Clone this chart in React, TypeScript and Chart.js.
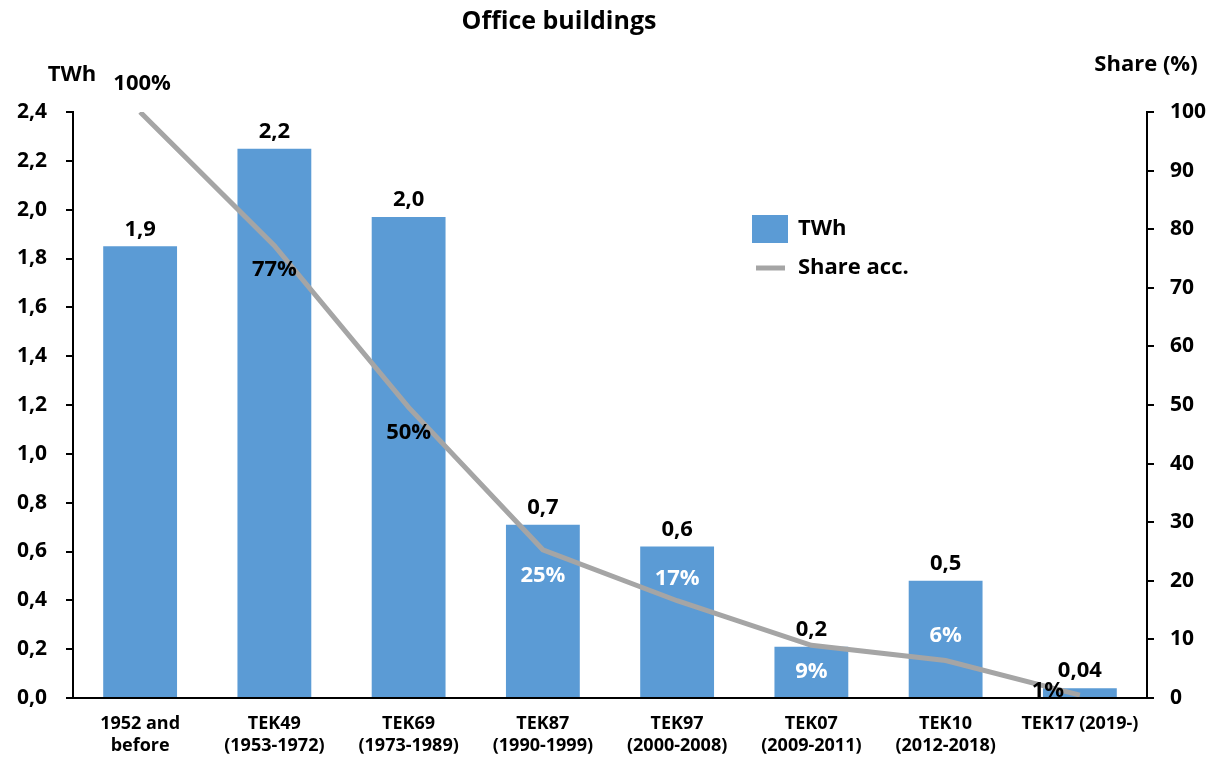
import React, { useEffect, useRef } from "react";
import { Chart, registerables } from "chart.js";

Chart.register(...registerables);

const categories: (string | string[])[] = [
  ["1952 and", "before"],
  ["TEK49", "(1953-1972)"],
  ["TEK69", "(1973-1989)"],
  ["TEK87", "(1990-1999)"],
  ["TEK97", "(2000-2008)"],
  ["TEK07", "(2009-2011)"],
  ["TEK10", "(2012-2018)"],
  "TEK17 (2019-)",
];
const twhValues = [1.85, 2.25, 1.97, 0.71, 0.62, 0.21, 0.48, 0.04];
const twhLabels = ["1,9", "2,2", "2,0", "0,7", "0,6", "0,2", "0,5", "0,04"];
const shareValues = [100, 77.2, 49.6, 25.3, 16.6, 9.0, 6.4, 0.5];
const shareLabels = ["100%", "77%", "50%", "25%", "17%", "9%", "6%", "1%"];

// label placement (dx, dy, colour) for share labels
const shareLabelPlacement = [
  { dx: 2, dy: -28, color: "#000" },
  { dx: 0, dy: 24, color: "#000" },
  { dx: 0, dy: 25, color: "#000" },
  { dx: 0, dy: 26, color: "#fff" },
  { dx: 0, dy: -22, color: "#fff" },
  { dx: 0, dy: 26, color: "#fff" },
  { dx: 0, dy: -25, color: "#fff" },
  { dx: -32, dy: -4, color: "#000" },
];

const FONT = "'Open Sans', 'DejaVu Sans', sans-serif";
const BAR_COLOR = "#5B9BD5";
const LINE_COLOR = "#A5A5A5";

export default function App() {
  const ref = useRef<HTMLCanvasElement | null>(null);

  useEffect(() => {
    document.body.style.margin = "0";
    const canvas = ref.current!;
    const overlay = {
      id: "overlay",
      afterDatasetsDraw(chart: any) {
        const ctx = chart.ctx;
        ctx.save();
        // bar labels
        const barMeta = chart.getDatasetMeta(0);
        ctx.font = `bold 22px ${FONT}`;
        ctx.fillStyle = "#000";
        ctx.textAlign = "center";
        ctx.textBaseline = "middle";
        barMeta.data.forEach((el: any, i: number) => {
          ctx.fillText(twhLabels[i], el.x, el.y - 17);
        });
        // share labels
        const lineMeta = chart.getDatasetMeta(1);
        lineMeta.data.forEach((el: any, i: number) => {
          const p = shareLabelPlacement[i];
          ctx.fillStyle = p.color;
          ctx.fillText(shareLabels[i], el.x + p.dx, el.y + p.dy);
        });
        ctx.restore();
      },
      afterDraw(chart: any) {
        const ctx = chart.ctx;
        const ca = chart.chartArea;
        ctx.save();
        // extend x axis line to the left (tick length)
        ctx.strokeStyle = "#000";
        ctx.lineWidth = 2;
        ctx.beginPath();
        ctx.moveTo(ca.left - 7, ca.bottom);
        ctx.lineTo(ca.right, ca.bottom);
        ctx.stroke();
        ctx.fillStyle = "#000";
        ctx.textBaseline = "middle";
        // title
        ctx.font = `bold 25px ${FONT}`;
        ctx.textAlign = "center";
        ctx.fillText("Office buildings", 559, 22);
        // axis titles
        ctx.font = `bold 22px ${FONT}`;
        ctx.textAlign = "center";
        ctx.fillText("TWh", 72, 75);
        ctx.fillText("Share (%)", 1146, 65);
        // legend
        ctx.fillStyle = BAR_COLOR;
        ctx.fillRect(752, 215, 36, 28);
        ctx.strokeStyle = LINE_COLOR;
        ctx.lineWidth = 5;
        ctx.beginPath();
        ctx.moveTo(756, 268);
        ctx.lineTo(785, 268);
        ctx.stroke();
        ctx.fillStyle = "#000";
        ctx.textAlign = "left";
        ctx.font = `bold 22px ${FONT}`;
        ctx.fillText("TWh", 798, 229);
        ctx.fillText("Share acc.", 798, 268);
        ctx.restore();
      },
    };

    const chart = new Chart(canvas, {
      type: "bar",
      data: {
        labels: categories,
        datasets: [
          {
            type: "bar",
            label: "TWh",
            data: twhValues,
            backgroundColor: BAR_COLOR,
            yAxisID: "y",
            barPercentage: 0.55,
            categoryPercentage: 1,
            order: 2,
          },
          {
            type: "line",
            label: "Share acc.",
            data: shareValues,
            borderColor: LINE_COLOR,
            backgroundColor: LINE_COLOR,
            borderWidth: 5,
            pointRadius: 0,
            tension: 0,
            yAxisID: "y1",
            order: 1,
          },
        ],
      },
      options: {
        responsive: false,
        animation: false,
        layout: { padding: { top: 112, bottom: 0, left: 0, right: 0 } },
        plugins: {
          legend: { display: false },
          title: { display: false },
          tooltip: { enabled: false },
        },
        scales: {
          x: {
            grid: { display: false, drawTicks: false },
            border: { display: false },
            ticks: {
              color: "#000",
              font: { family: FONT, weight: "bold", size: 18, lineHeight: 1.2 },
              padding: 15,
              maxRotation: 0,
              autoSkip: false,
            },
            afterFit: (s: any) => {
              s.height = 762 - 698;
            },
          },
          y: {
            position: "left",
            min: 0,
            max: 2.4,
            grid: { drawOnChartArea: false, drawTicks: true, tickLength: 7, color: "#000", lineWidth: 2 },
            border: { display: true, color: "#000", width: 2 },
            ticks: {
              stepSize: 0.2,
              color: "#000",
              padding: 19,
              font: { family: FONT, weight: "bold", size: 21 },
              callback: (v: any) => Number(v).toFixed(1).replace(".", ","),
            },
            afterFit: (s: any) => {
              s.width = 73;
            },
          },
          y1: {
            position: "right",
            min: 0,
            max: 100,
            grid: { drawOnChartArea: false, drawTicks: true, tickLength: 7, color: "#000", lineWidth: 2 },
            border: { display: true, color: "#000", width: 2 },
            ticks: {
              stepSize: 10,
              color: "#000",
              padding: 16,
              font: { family: FONT, weight: "bold", size: 21 },
            },
            afterFit: (s: any) => {
              s.width = 1222 - 1147;
            },
          },
        },
      },
      plugins: [overlay],
    });
    return () => chart.destroy();
  }, []);

  return (
    <div style={{ width: 1222, height: 762 }}>
      <canvas ref={ref} width={1222} height={762} style={{ display: "block" }} />
    </div>
  );
}
